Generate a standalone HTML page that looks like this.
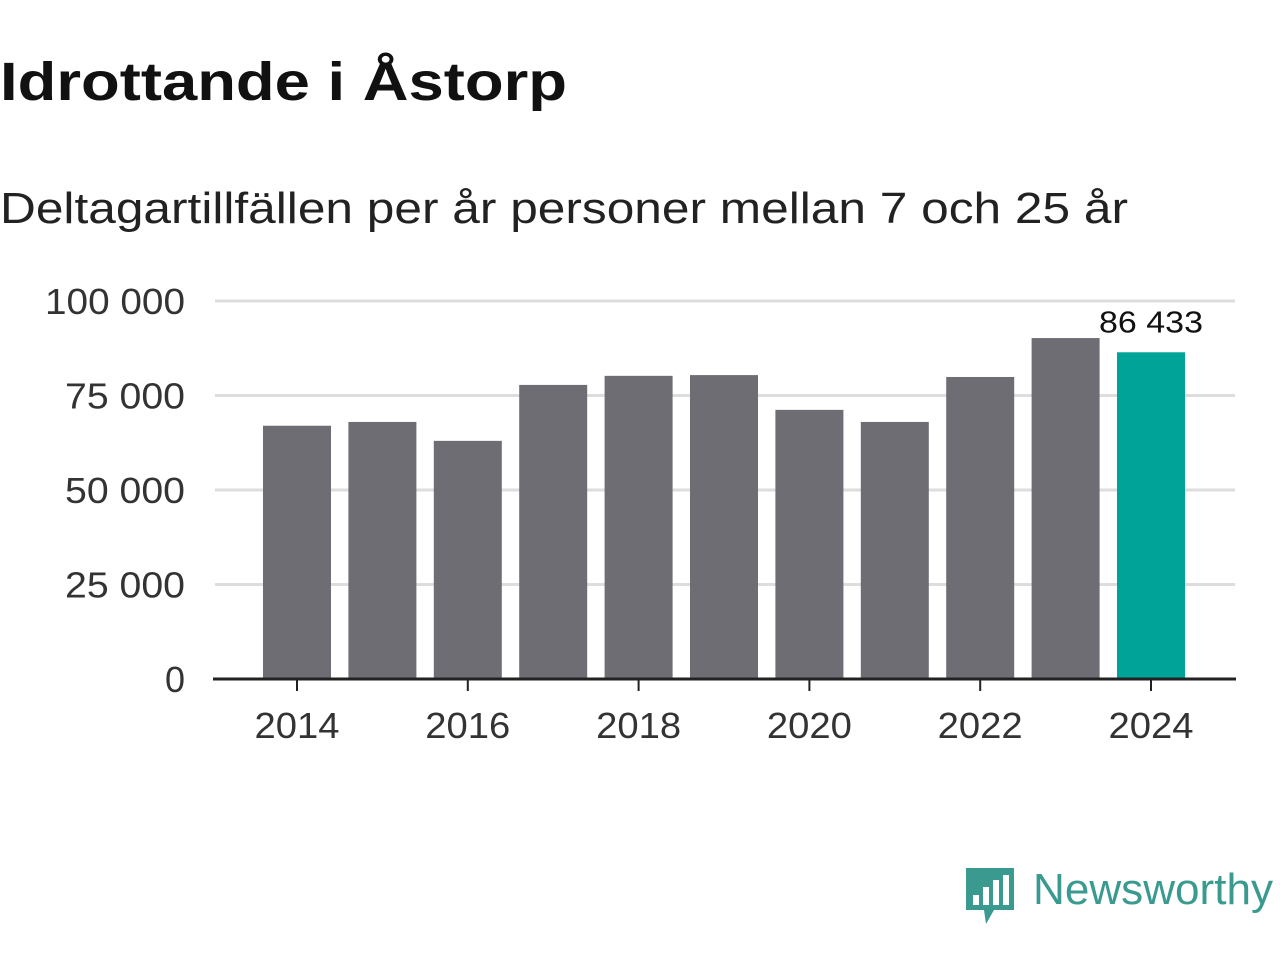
<!DOCTYPE html>
<html><head><meta charset="utf-8"><style>
body{margin:0;background:#fff;font-family:"Liberation Sans",sans-serif;}
</style></head><body>
<svg width="1280" height="960" xmlns="http://www.w3.org/2000/svg">
<text x="0" y="100" font-size="54" font-weight="bold" fill="#111" textLength="567" lengthAdjust="spacingAndGlyphs">Idrottande i Åstorp</text>
<text x="0" y="223" font-size="44" fill="#222" textLength="1128" lengthAdjust="spacingAndGlyphs">Deltagartillfällen per år personer mellan 7 och 25 år</text>
<g id="grid"></g><g id="bars"></g><g id="axes"></g>
<g>
<path d="M966 868 h48 v42 h-20 l-8 14 l-2 -14 h-18 z" fill="#3a9a8f"/>
<rect x="973" y="895" width="6" height="10" fill="#fff"/><rect x="983" y="887" width="6" height="18" fill="#fff"/><rect x="993" y="880" width="6" height="25" fill="#fff"/><rect x="1003" y="875" width="6" height="30" fill="#fff"/>
<text x="1033" y="904" font-size="44" fill="#3a9a8f" textLength="240" lengthAdjust="spacingAndGlyphs">Newsworthy</text>
</g>
</svg>
<script>
const years=[2014,2015,2016,2017,2018,2019,2020,2021,2022,2023,2024];
const values=[67000,68000,63000,77800,80200,80400,71200,68000,79900,90200,86433];
const yTicks=[0,25000,50000,75000,100000];
const yTickLabels=["0","25 000","50 000","75 000","100 000"];
const NS="http://www.w3.org/2000/svg";
const y=v=>679-v*(378/100000);
const x=i=>297+i*85.4;
function el(t,a,p){const e=document.createElementNS(NS,t);for(const k in a)e.setAttribute(k,a[k]);document.getElementById(p).appendChild(e);return e;}
yTicks.forEach((t,i)=>{
 if(t>0){const g=el('line',{x1:215,x2:1235,y1:y(t),y2:y(t),stroke:'#ddd','stroke-width':3},'grid');
 
 }
 const n=yTickLabels[i].length;
 const l=el('text',{x:185,y:y(t)+13,'font-size':36,fill:'#333','text-anchor':'end',textLength:n*20,lengthAdjust:'spacingAndGlyphs'},'axes');l.textContent=yTickLabels[i];
 
 
});
years.forEach((yr,i)=>{
 const last=i===years.length-1;
 const b=el('rect',{x:x(i)-34,y:y(values[i]),width:68,height:679-y(values[i]),fill:last?'#00a398':'#6e6d74'},'bars');
 
 
 if(yr%2===0){
  el('line',{x1:x(i),x2:x(i),y1:679,y2:691,stroke:'#222','stroke-width':2},'axes');
  const t=el('text',{x:x(i),y:738,'font-size':36,fill:'#333','text-anchor':'middle',textLength:85,lengthAdjust:'spacingAndGlyphs'},'axes');t.textContent=yr;
  
  
 }
 if(last){const v=el('text',{x:x(i),y:y(values[i])-20,'font-size':31,fill:'#111','text-anchor':'middle',textLength:104,lengthAdjust:'spacingAndGlyphs'},'axes');
  v.textContent=values[i].toLocaleString('en-US').replace(',',' ');
  
  }
});
const ax=el('line',{x1:213,x2:1236,y1:679,y2:679,stroke:'#222','stroke-width':3},'axes');


</script>
</body></html>
